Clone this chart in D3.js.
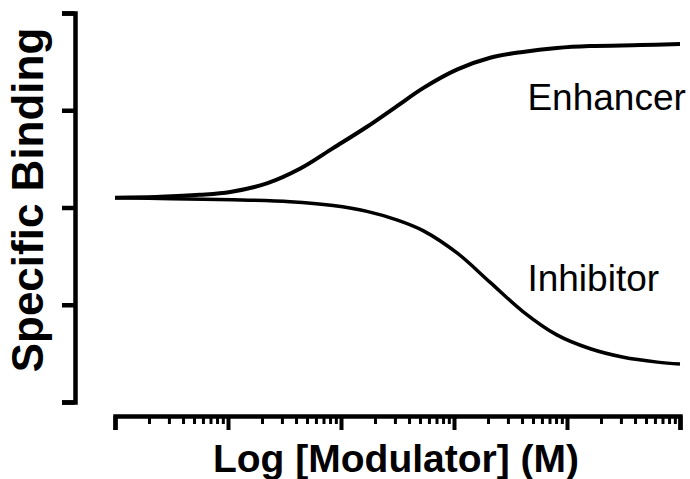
<!DOCTYPE html>
<html>
<head>
<meta charset="utf-8">
<script src="https://cdn.jsdelivr.net/npm/d3@7"></script>
<style>
  html, body { margin: 0; padding: 0; background: #fff; }
  svg { display: block; }
</style>
</head>
<body>
<script>
// Log [Modulator] (M) values (log10 units)
const enhancerX = [-10, -9.6, -9.25, -8.98, -8.65, -8.36, -8.07, -7.77, -7.52, -7.27, -6.97, -6.68, -6.39, -6.09, -5.80, -5.35, -5.0];
const enhancerY = [2.10, 2.11, 2.13, 2.16, 2.25, 2.40, 2.61, 2.83, 3.03, 3.23, 3.42, 3.54, 3.60, 3.64, 3.66, 3.67, 3.68];
const inhibitorX = [-10, -9.5, -8.96, -8.45, -8.07, -7.77, -7.50, -7.27, -6.97, -6.68, -6.39, -6.09, -5.80, -5.50, -5.20, -5.0];
const inhibitorY = [2.10, 2.09, 2.08, 2.06, 2.02, 1.96, 1.87, 1.76, 1.53, 1.23, 0.93, 0.69, 0.55, 0.46, 0.41, 0.39];
const yTicks = [0, 1, 2, 3, 4];
const xMajorTicks = [-10, -9, -8, -7, -6, -5];
const seriesNames = ["Enhancer", "Inhibitor"];
const xTitle = "Log [Modulator] (M)";
const yTitle = "Specific Binding";

const W = 690, H = 479;
const svg = d3.select("body").append("svg").attr("width", W).attr("height", H);

const x = d3.scaleLinear().domain([-10, -5]).range([115, 680]);
const y = d3.scaleLinear().domain([0, 4]).range([402, 13]);

// minor ticks at log positions 2..9 within each decade
const xMinorTicks = [];
xMajorTicks.slice(0, -1).forEach(d => {
  for (let k = 2; k <= 9; k++) xMinorTicks.push(d + Math.log10(k));
});

// Y axis
const yAxisX = 75;
const gy = svg.append("g").attr("transform", `translate(${yAxisX},0)`)
  .call(d3.axisLeft(y).tickValues(yTicks).tickSize(13).tickSizeOuter(13).tickFormat(""));
gy.select(".domain").attr("stroke", "#000").attr("stroke-width", 4.5).attr("fill", "none");
gy.selectAll(".tick line").attr("stroke", "#000").attr("stroke-width", 4.5);

// X axis
const xAxisY = 416;
const gx = svg.append("g").attr("transform", `translate(0,${xAxisY})`)
  .call(d3.axisBottom(x).tickValues(xMajorTicks).tickSize(14).tickSizeOuter(14).tickFormat(""));
gx.select(".domain").attr("stroke", "#000").attr("stroke-width", 4.5).attr("fill", "none");
gx.selectAll(".tick line").attr("stroke", "#000").attr("stroke-width", 4);

const gxm = svg.append("g").attr("transform", `translate(0,${xAxisY})`)
  .call(d3.axisBottom(x).tickValues(xMinorTicks).tickSize(8).tickSizeOuter(0).tickFormat(""));
gxm.select(".domain").remove();
gxm.selectAll(".tick line").attr("stroke", "#000").attr("stroke-width", 3);

// Curves
const line = d3.line().x(d => x(d[0])).y(d => y(d[1])).curve(d3.curveCatmullRom.alpha(0.5));
const enh = enhancerX.map((v, i) => [v, enhancerY[i]]);
const inh = inhibitorX.map((v, i) => [v, inhibitorY[i]]);
svg.append("path").datum(enh).attr("d", line)
  .attr("fill", "none").attr("stroke", "#000").attr("stroke-width", 4);
svg.append("path").datum(inh).attr("d", line)
  .attr("fill", "none").attr("stroke", "#000").attr("stroke-width", 3.5);

// Series labels
svg.append("text").attr("x", x(-6.35)).attr("y", y(3.0)).text(seriesNames[0])
  .attr("font-family", "Liberation Sans, Arial, sans-serif").attr("font-size", 37).attr("fill", "#000");
svg.append("text").attr("x", x(-6.35)).attr("y", y(1.14)).text(seriesNames[1])
  .attr("font-family", "Liberation Sans, Arial, sans-serif").attr("font-size", 37).attr("fill", "#000");

// Axis titles
svg.append("text").attr("x", 396).attr("y", 472).attr("text-anchor", "middle").text(xTitle)
  .attr("font-family", "Liberation Sans, Arial, sans-serif").attr("font-weight", "bold")
  .attr("font-size", 39).attr("fill", "#000");
svg.append("text").attr("transform", "translate(43,200) rotate(-90)").attr("text-anchor", "middle").text(yTitle)
  .attr("font-family", "Liberation Sans, Arial, sans-serif").attr("font-weight", "bold")
  .attr("font-size", 44).attr("fill", "#000");
</script>
</body>
</html>
